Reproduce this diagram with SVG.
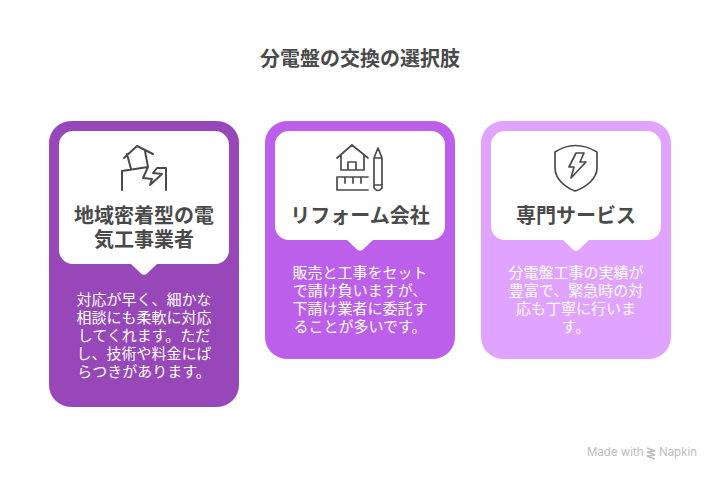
<svg xmlns="http://www.w3.org/2000/svg" width="720" height="480" viewBox="0 0 720 480">
<style>
text{font-family:"Noto Sans CJK JP","Noto Sans",sans-serif;text-anchor:middle}
.t{font-size:20px;font-weight:700;fill:#4a4a4a}
.h{font-size:20px;font-weight:700;fill:#4a4a4a}
.b{font-size:15px;font-weight:400;fill:#fff}
.w{fill:#fff}
.i{fill:none;stroke:#4a4a4a;stroke-width:2;stroke-linejoin:round;stroke-linecap:round}
.j{stroke-width:1.700}
.m{font-family:"Inter","Noto Sans",sans-serif;font-size:11.500px;fill:#bdbdbd;text-anchor:start}
</style>
<rect width="720" height="480" fill="#fff"/>
<text class="t" x="360" y="66">分電盤の交換の選択肢</text>
<g id="node1">
<rect x="49" y="121" width="190" height="286" rx="22" fill="#9747B8"/>
<path class="w" d="M73 131H215a14 14 0 0 1 14 14V250a14 14 0 0 1-14 14H157L147 273.500Q144 276 141 273.500L131 264H73a14 14 0 0 1-14-14V145a14 14 0 0 1 14-14Z"/>
<path class="i" d="M124 158L137 146L153 154M127 154L131 169M145 151L148 167M122 190V171L148 167L143 178L152 179L150 185L162 174L153 173L157 168H166V190"/>
<text class="h" x="144" y="223">地域密着型の電</text>
<text class="h" x="144" y="247">気工事業者</text>
<text class="b" x="144" y="305">対応が早く、細かな</text>
<text class="b" x="144" y="323">相談にも柔軟に対応</text>
<text class="b" x="144" y="341">してくれます。ただ</text>
<text class="b" x="144" y="359">し、技術や料金にば</text>
<text class="b" x="144" y="377">らつきがあります。</text>
</g>
<g id="node2">
<rect x="265" y="121" width="190" height="238" rx="22" fill="#BC5FEA"/>
<path class="w" d="M289 131H431a14 14 0 0 1 14 14V226a14 14 0 0 1-14 14H373L363 249.500Q360 252 357 249.500L347 240H289a14 14 0 0 1-14-14V145a14 14 0 0 1 14-14Z"/>
<path class="i j" d="M337 158L352 145L368 158M341 155V170H364V155M348 170V162H356V170M368 177H337V190H368M345 177V183M353 177V183M361 177V183M374 158L378 148L382 158V188Q378 193 374 188ZM374 158H382M374 185H382"/>
<text class="h" x="360" y="223">リフォーム会社</text>
<text class="b" x="360" y="278">販売と工事をセット</text>
<text class="b" x="360" y="296">で請け負いますが、</text>
<text class="b" x="360" y="314">下請け業者に委託す</text>
<text class="b" x="360" y="332">ることが多いです。</text>
</g>
<g id="node3">
<rect x="481" y="121" width="190" height="238" rx="22" fill="#E0A3FF"/>
<path class="w" d="M505 131H647a14 14 0 0 1 14 14V226a14 14 0 0 1-14 14H589L579 249.500Q576 252 573 249.500L563 240H505a14 14 0 0 1-14-14V145a14 14 0 0 1 14-14Z"/>
<path class="i j" d="M555 152Q575 139 597 152V168C597 178 587 187 575 191C564 187 555 178 555 168ZM576 153H584L580 162H586L571 178L574 167H569Z"/>
<text class="h" x="576" y="223">専門サービス</text>
<text class="b" x="576" y="278">分電盤工事の実績が</text>
<text class="b" x="576" y="296">豊富で、緊急時の対</text>
<text class="b" x="576" y="314">応も丁寧に行いま</text>
<text class="b" x="576" y="332">す。</text>
</g>
<g id="connectors"></g>
<g id="credit">
<text class="m" x="587" y="456">Made with</text>
<path d="M647 448L655 451L647 452L655 455L647 456L655 459" fill="none" stroke="#bdbdbd" stroke-width="1.500"/>
<text class="m" x="659" y="456">Napkin</text>
</g>
</svg>
